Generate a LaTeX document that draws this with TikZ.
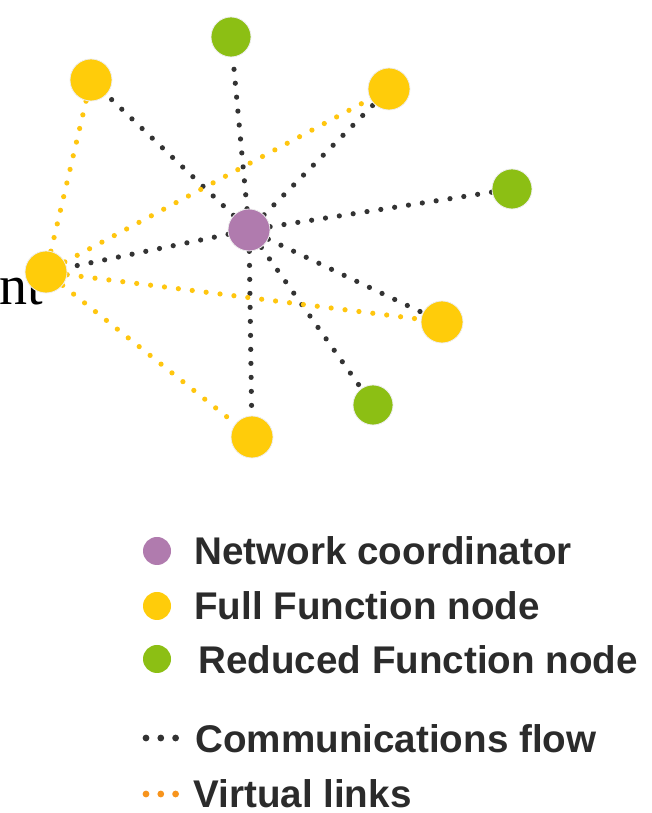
\documentclass[tikz,border=0pt]{standalone}
\usepackage{fontspec}
\setmainfont{Liberation Serif}
\setsansfont{Liberation Sans}
\usetikzlibrary{backgrounds}
\definecolor{coord}{HTML}{B07BAE}
\definecolor{ffn}{HTML}{FFCC0A}
\definecolor{rfn}{HTML}{8CBF14}
\definecolor{vlink}{HTML}{FFC60F}
\definecolor{vleg}{HTML}{F7941D}
\definecolor{flow}{HTML}{333333}
\definecolor{legtxt}{HTML}{2B2B2B}

\begin{document}
\begin{tikzpicture}[x=0.5pt,y=0.5pt,
  nc/.style={circle,fill=coord,draw=black!7,minimum size=21pt,inner sep=0pt},
  ff/.style={circle,fill=ffn,draw=black!7,minimum size=21pt,inner sep=0pt},
  rf/.style={circle,fill=rfn,draw=black!7,minimum size=20pt,inner sep=0pt},
  comm/.style={flow,line width=2.6pt,line cap=round,dash pattern=on 0pt off 7pt},
  virt/.style={vlink,line width=2.6pt,line cap=round,dash pattern=on 0pt off 7pt},
  legdot/.style={circle,minimum size=14pt,inner sep=0pt},
  legtext/.style={anchor=west,inner sep=0pt,text=legtxt,font=\fontsize{19.3}{22}\sffamily\bfseries}]
\useasboundingbox (0,0) rectangle (652,813);
% cut-off word from the page
\node[anchor=base west,inner sep=0pt,font=\fontsize{28}{30}\selectfont] (frag) at (-1,508) {nt};
\path
(249,583) node[nc] (C)  {}
(91,733)  node[ff] (f1) {}
(389,724) node[ff] (f2) {}
(46,541)  node[ff] (f3) {}
(442,491) node[ff] (f4) {}
(252,376) node[ff] (f5) {}
(231,776) node[rf] (r1) {}
(512,624) node[rf] (r2) {}
(373,408) node[rf] (r3) {};
\begin{scope}[on background layer]
\draw[comm] (C)--(r1);
\draw[comm] (C)--(f1);
\draw[comm] (C)--(f2);
\draw[comm] (C)--(r2);
\draw[comm] (C)--(f3);
\draw[comm] (C)--(f4);
\draw[comm] (C)--(r3);
\draw[comm] (C)--(f5);
\draw[virt] (f3)--(f1);
\draw[virt] (f3)--(f2);
\draw[virt] (f3)--(f4);
\draw[virt] (f3)--(f5);
\end{scope}
% legend
\path
(157,262) node[legdot,fill=coord] (l1) {}
(157,207) node[legdot,fill=ffn]   (l2) {}
(157,154) node[legdot,fill=rfn]   (l3) {}
(194,262) node[legtext] (t1) {Network coordinator}
(194,207) node[legtext] (t2) {Full Function node}
(198,153) node[legtext] (t3) {Reduced Function node}
(195,74)  node[legtext] (t4) {Communications flow}
(193,19)  node[legtext] (t5) {Virtual links};
\coordinate (c1) at (146,75);
\coordinate (c2) at (177,75);
\coordinate (v1) at (146,19);
\coordinate (v2) at (177,19);
\draw[comm,line width=3.4pt,dash pattern=on 0pt off 7.4pt] (c1)--(c2);
\draw[comm,vleg,line width=3.4pt,dash pattern=on 0pt off 7.4pt] (v1)--(v2);
\end{tikzpicture}
\end{document}
